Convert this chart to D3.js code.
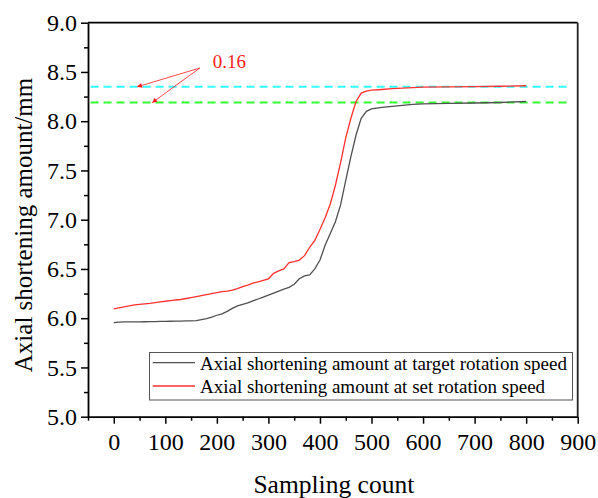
<!DOCTYPE html>
<html>
<head>
<meta charset="utf-8">
<script src="https://cdn.jsdelivr.net/npm/d3@7"></script>
<style>
  body { margin: 0; background: #fff; }
  svg text { font-family: "Liberation Serif", "Times New Roman", serif; }
</style>
</head>
<body>
<div id="chart"></div>
<script>
const width = 598
const height = 498

// data
const sampleCount = [0, 10, 20, 30, 40, 50, 60, 70, 80, 90, 100, 110, 120, 130, 140, 150, 160, 170, 180, 190,
    200, 210, 220, 230, 240, 250, 260, 270, 280, 290, 300, 310, 320, 330, 340, 350, 360, 370, 380, 390,
    400, 410, 420, 430, 440, 450, 460, 470, 480, 490, 500, 520, 540, 560, 580, 600, 650, 700, 750, 800]
const targetSpeed = [5.955, 5.96, 5.962, 5.962, 5.963, 5.963, 5.964, 5.965, 5.966, 5.967, 5.968, 5.969, 5.97, 5.971, 5.972, 5.973, 5.975, 5.985, 5.995, 6.01,
    6.03, 6.045, 6.07, 6.10, 6.125, 6.14, 6.155, 6.175, 6.195, 6.215, 6.235, 6.255, 6.275, 6.295, 6.313, 6.345, 6.40, 6.43, 6.44, 6.50,
    6.59, 6.74, 6.86, 6.98, 7.15, 7.40, 7.64, 7.86, 8.03, 8.10, 8.125, 8.14, 8.15, 8.16, 8.17, 8.175, 8.18, 8.185, 8.19, 8.20]
const setSpeed = [6.095, 6.105, 6.115, 6.125, 6.135, 6.14, 6.145, 6.15, 6.158, 6.165, 6.172, 6.178, 6.185, 6.19, 6.20, 6.21, 6.22, 6.23, 6.24, 6.25,
    6.26, 6.27, 6.275, 6.285, 6.30, 6.32, 6.335, 6.355, 6.37, 6.385, 6.40, 6.455, 6.48, 6.50, 6.565, 6.575, 6.59, 6.635, 6.72, 6.79,
    6.90, 7.02, 7.16, 7.35, 7.58, 7.83, 8.03, 8.20, 8.285, 8.305, 8.315, 8.322, 8.33, 8.335, 8.34, 8.345, 8.348, 8.35, 8.355, 8.36]

const seriesNames = ['Axial shortening amount at target rotation speed', 'Axial shortening amount at set rotation speed']
const refLevels = [8.35, 8.19]
const refSpan = [-45, 887]
const xTicks = [0, 100, 200, 300, 400, 500, 600, 700, 800, 900]
const xMinorTicks = [-50, 50, 150, 250, 350, 450, 550, 650, 750, 850]
const yTicks = [5.0, 5.5, 6.0, 6.5, 7.0, 7.5, 8.0, 8.5, 9.0]
const yMinorTicks = [5.25, 5.75, 6.25, 6.75, 7.25, 7.75, 8.25, 8.75]
const diffLabel = '0.16'
const diffLabelAt = [192, 8.54]
const arrowFrom = [167, 8.54]
const arrowTargets = [[46, 8.35], [75, 8.19]]

const plotLeft = 88
const plotRight = 577.7
const plotTop = 22.7
const plotBottom = 416.7

const xScale = d3.scaleLinear().domain([-50, 900]).range([plotLeft, plotRight])
const yScale = d3.scaleLinear().domain([5, 9]).range([plotBottom, plotTop])

const svg = d3.select('#chart').append('svg')
    .attr('width', width)
    .attr('height', height)

svg.append('rect').attr('width', width).attr('height', height).attr('fill', 'white')

const defs = svg.append('defs')
defs.append('marker')
    .attr('id', 'arrowhead')
    .attr('viewBox', '0 0 10 10')
    .attr('refX', 9).attr('refY', 5)
    .attr('markerWidth', 7).attr('markerHeight', 5)
    .attr('markerUnits', 'userSpaceOnUse')
    .attr('orient', 'auto')
    .append('path')
    .attr('d', 'M0,0L10,5L0,10z')
    .attr('fill', '#ff1a1a')

// reference dashed levels
const refColors = ['#33ffff', '#33ff33']
svg.append('g').selectAll('line')
    .data(refLevels)
    .join('line')
    .attr('x1', xScale(refSpan[0]))
    .attr('x2', xScale(refSpan[1]))
    .attr('y1', d => yScale(d))
    .attr('y2', d => yScale(d))
    .attr('stroke', (d, i) => refColors[i])
    .attr('stroke-width', 2)
    .attr('stroke-dasharray', '8,5')

// curves
const valueline = d3.line()
    .x(d => xScale(d.x))
    .y(d => yScale(d.y))

const lineColors = ['#505050', '#ff3030']
const seriesData = [targetSpeed, setSpeed].map(vals => vals.map((v, i) => ({ x: sampleCount[i], y: v })))

svg.append('g').selectAll('path')
    .data(seriesData)
    .join('path')
    .attr('d', valueline)
    .attr('fill', 'none')
    .attr('stroke', (d, i) => lineColors[i])
    .attr('stroke-width', 1.3)

// annotation
svg.append('g').selectAll('line')
    .data(arrowTargets)
    .join('line')
    .attr('x1', xScale(arrowFrom[0]))
    .attr('y1', yScale(arrowFrom[1]))
    .attr('x2', d => xScale(d[0]))
    .attr('y2', d => yScale(d[1]))
    .attr('stroke', '#ff1a1a')
    .attr('stroke-width', 0.8)
    .attr('marker-end', 'url(#arrowhead)')

svg.append('text')
    .attr('x', xScale(diffLabelAt[0]))
    .attr('y', yScale(diffLabelAt[1]))
    .attr('fill', '#ff1a1a')
    .attr('font-size', 19)
    .text(diffLabel)

// axes
svg.append('g')
    .attr('transform', 'translate(0,' + plotBottom + ')')
    .call(d3.axisBottom(xScale).tickValues(xTicks).tickSize(7).tickSizeOuter(0).tickPadding(9).tickFormat(d3.format('d')))
svg.append('g')
    .attr('transform', 'translate(0,' + plotBottom + ')')
    .call(d3.axisBottom(xScale).tickValues(xMinorTicks).tickSize(4).tickSizeOuter(0).tickFormat(''))
    .call(g => g.select('.domain').remove())

svg.append('g')
    .attr('transform', 'translate(' + plotLeft + ',0)')
    .call(d3.axisLeft(yScale).tickValues(yTicks).tickSize(7).tickSizeOuter(0).tickPadding(4).tickFormat(d3.format('.1f')))
svg.append('g')
    .attr('transform', 'translate(' + plotLeft + ',0)')
    .call(d3.axisLeft(yScale).tickValues(yMinorTicks).tickSize(4).tickSizeOuter(0).tickFormat(''))
    .call(g => g.select('.domain').remove())

svg.selectAll('.tick line').attr('stroke', '#000').attr('stroke-width', 1.5)
svg.selectAll('.domain').attr('stroke', '#000').attr('stroke-width', 1.8)
svg.selectAll('.tick text')
    .attr('fill', '#000')
    .attr('font-size', 24)
    .attr('font-family', '"Liberation Serif", "Times New Roman", serif')

// frame top and right
svg.append('line')
    .attr('x1', plotLeft).attr('x2', plotRight)
    .attr('y1', plotTop).attr('y2', plotTop)
    .attr('stroke', '#000').attr('stroke-width', 1.8)
svg.append('line')
    .attr('x1', plotRight).attr('x2', plotRight)
    .attr('y1', plotTop).attr('y2', plotBottom)
    .attr('stroke', '#222').attr('stroke-width', 1.8)

// axis titles
svg.append('text')
    .attr('x', (plotLeft + plotRight) / 2 + 1)
    .attr('y', 492.5)
    .attr('text-anchor', 'middle')
    .attr('font-size', 25.5)
    .text('Sampling count')
svg.append('text')
    .attr('transform', 'translate(32,' + 225 + ') rotate(-90)')
    .attr('text-anchor', 'middle')
    .attr('font-size', 25)
    .text('Axial shortening amount/mm')

// legend
const legend = svg.append('g')
legend.append('rect')
    .attr('x', 149.5).attr('y', 352.5)
    .attr('width', 423).attr('height', 47.5)
    .attr('fill', 'white')
    .attr('stroke', '#555')
    .attr('stroke-width', 1)
const legendItems = legend.selectAll('g.item')
    .data(seriesNames)
    .join('g')
    .attr('class', 'item')
    .attr('transform', (d, i) => 'translate(0,' + (362.7 + i * 23.3) + ')')
legendItems.append('line')
    .attr('x1', 152.7).attr('x2', 195)
    .attr('stroke', (d, i) => lineColors[i])
    .attr('stroke-width', 1.3)
legendItems.append('text')
    .attr('x', 200)
    .attr('y', 7)
    .attr('font-size', 19)
    .text(d => d)
</script>
</body>
</html>
